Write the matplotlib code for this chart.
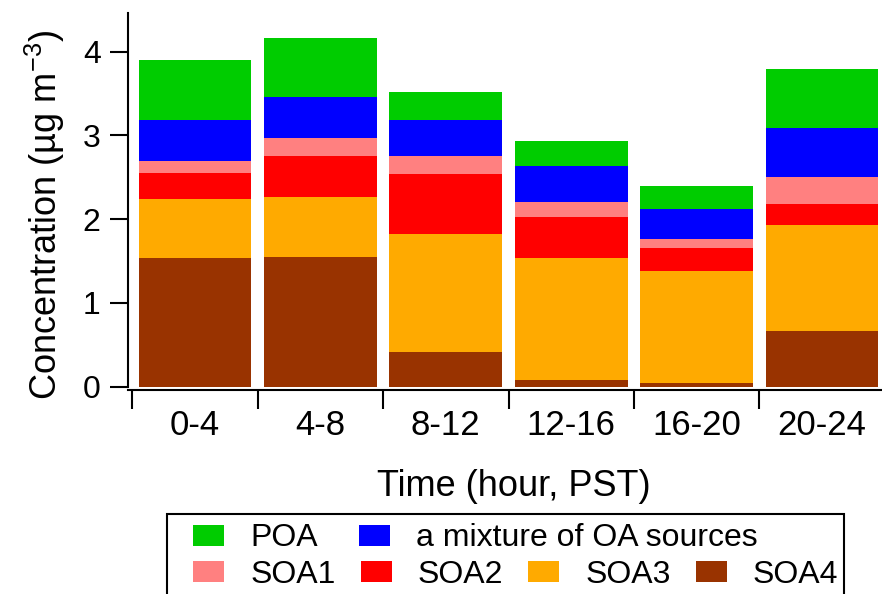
import matplotlib
matplotlib.use('Agg')
import matplotlib.pyplot as plt
from matplotlib.patches import Rectangle
import numpy as np

plt.rcParams['font.family'] = ['Liberation Sans', 'DejaVu Sans']
plt.rcParams['mathtext.fontset'] = 'custom'
plt.rcParams['mathtext.rm'] = 'Liberation Sans'
plt.rcParams['mathtext.it'] = 'Liberation Sans'

###################################################################################################
# Diurnal OA source apportionment, 4-hour bins (ug m-3)
time_bins = ['0-4', '4-8', '8-12', '12-16', '16-20', '20-24']

soa4 = [1.54, 1.55, 0.41, 0.08, 0.04, 0.67]
soa3 = [0.70, 0.71, 1.41, 1.46, 1.34, 1.26]
soa2 = [0.31, 0.49, 0.72, 0.49, 0.28, 0.25]
soa1 = [0.15, 0.22, 0.21, 0.17, 0.10, 0.33]
mixture = [0.49, 0.49, 0.44, 0.43, 0.36, 0.58]
poa = [0.71, 0.70, 0.33, 0.30, 0.28, 0.70]

# stacking order, bottom to top
layers = [
    ('SOA4', soa4, '#993300'),
    ('SOA3', soa3, '#FFAA00'),
    ('SOA2', soa2, '#FF0000'),
    ('SOA1', soa1, '#FF8080'),
    ('a mixture of OA sources', mixture, '#0000FF'),
    ('POA', poa, '#00CC00'),
]

###################################################################################################
W, H = 882, 594
fig = plt.figure(figsize=(W / 100, H / 100), dpi=100)
ax = fig.add_axes([128 / W, 1 - 386.7 / H, 1 - 128 / W, (386.7 - 12.7) / H])

x = np.arange(len(time_bins))
bottom = np.zeros(len(time_bins))
bars = {}
for name, vals, color in layers:
    bars[name] = ax.bar(x, vals, width=0.9, bottom=bottom, color=color,
                        edgecolor='none', label=name)
    bottom += np.array(vals)

ax.set_xlim(-0.534, 5.478)
ax.set_ylim(0, 4.466)

# axes styling
for side in ['top', 'right']:
    ax.spines[side].set_visible(False)
ax.spines['left'].set_linewidth(1.5)
ax.spines['bottom'].set_linewidth(1.5)
ax.spines['bottom'].set_position(('outward', 2.3))

ax.set_yticks([0, 1, 2, 3, 4])
ax.tick_params(axis='y', direction='out', length=12.7, width=1.5, pad=7, labelsize=23)

ax.set_xticks(x)
ax.set_xticklabels(time_bins)
ax.set_xticks(np.arange(len(time_bins)) - 0.5, minor=True)
ax.tick_params(axis='x', which='major', length=0, pad=13.5, labelsize=25)
ax.tick_params(axis='x', which='minor', direction='out', length=13.7, width=1.5)

fig.text(514 / W, 1 - 487 / H, 'Time (hour, PST)', fontsize=26,
         ha='center', va='center')
fig.text(45 / W, 1 - 215 / H, r'Concentration (µg m$^{-3}$)', fontsize=26,
         rotation=90, ha='center', va='center')

# legend: two rows in one frame
leg_kw = dict(frameon=False, fontsize=23, loc='center left', borderpad=0,
              borderaxespad=0, handlelength=0.97, handleheight=0.63,
              handletextpad=0.82, bbox_transform=fig.transFigure)
fig.legend(handles=[bars['POA'], bars['a mixture of OA sources']], ncol=2,
           columnspacing=1.27, bbox_to_anchor=(193.3 / W, 1 - 538.3 / H), **leg_kw)
fig.legend(handles=[bars['SOA1'], bars['SOA2'], bars['SOA3'], bars['SOA4']], ncol=4,
           columnspacing=0.78, bbox_to_anchor=(193.3 / W, 1 - 575 / H), **leg_kw)
fig.patches.append(Rectangle((167.3 / W, -0.1), (844.3 - 167.3) / W, 0.1 + 1 - 514 / H,
                             transform=fig.transFigure, fill=False,
                             edgecolor='black', linewidth=1.5))

fig.savefig('out.png', dpi=100)
